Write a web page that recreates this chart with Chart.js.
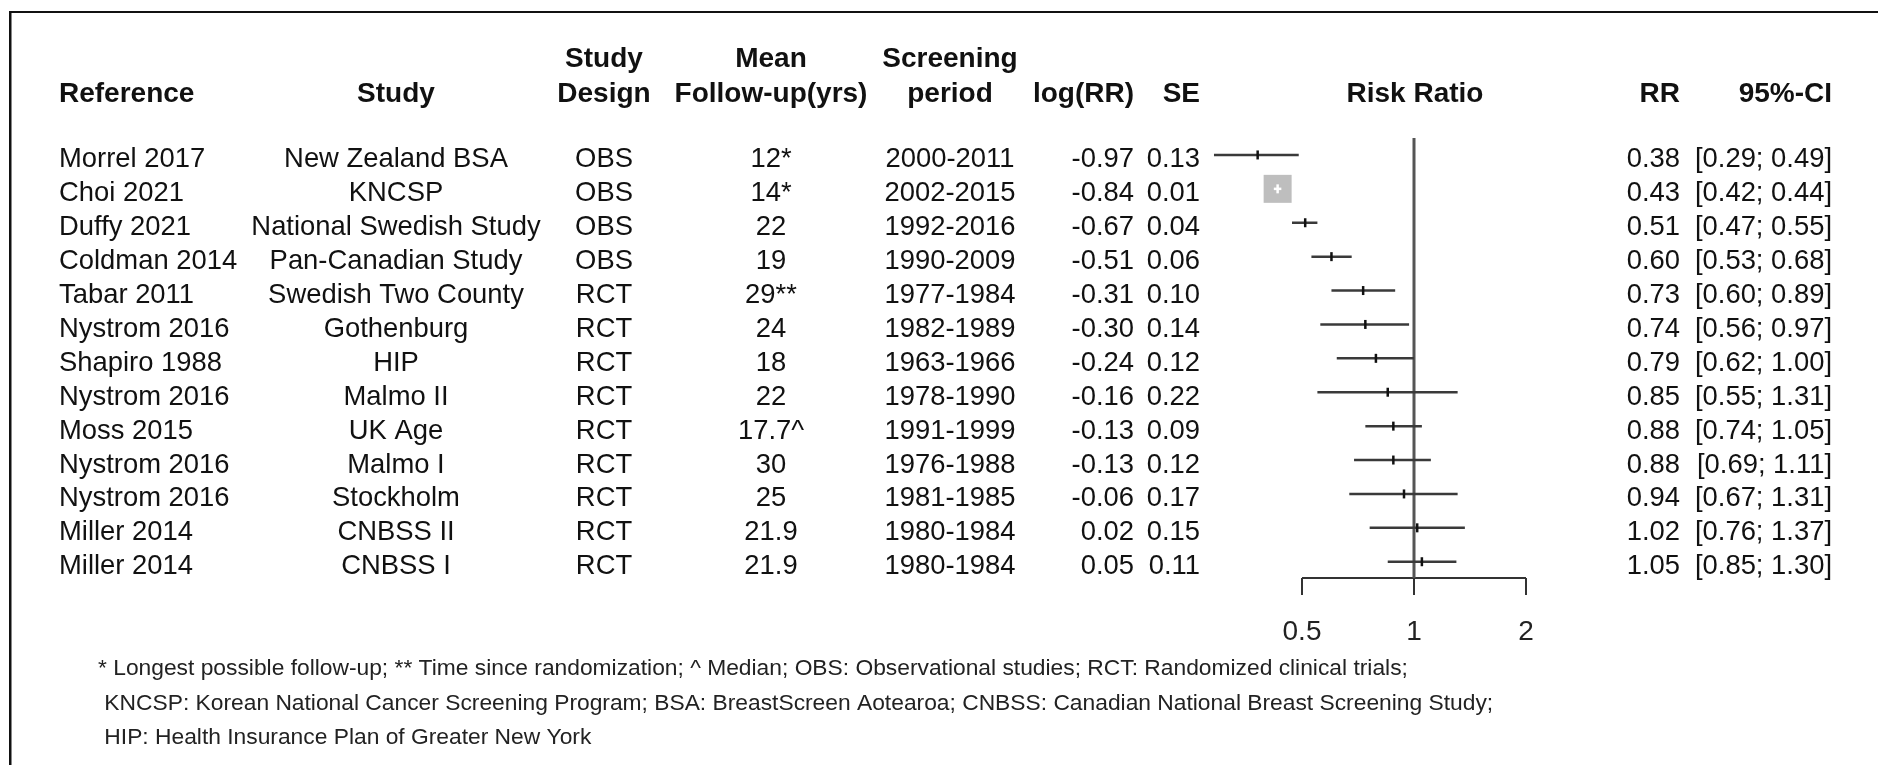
<!doctype html>
<meta charset="utf-8">
<style>
    html, body { margin: 0; background: #fff; }
    canvas { display: block; }
</style>
<script src="https://cdn.jsdelivr.net/npm/chart.js@4.4.8/dist/chart.umd.min.js"></script>

<canvas id="chart" width="1878" height="765"></canvas>

<script>
    const reference = ["Morrel 2017", "Choi 2021", "Duffy 2021", "Coldman 2014", "Tabar 2011", "Nystrom 2016", "Shapiro 1988",
        "Nystrom 2016", "Moss 2015", "Nystrom 2016", "Nystrom 2016", "Miller 2014", "Miller 2014"];
    const study = ["New Zealand BSA", "KNCSP", "National Swedish Study", "Pan-Canadian Study", "Swedish Two County", "Gothenburg", "HIP",
        "Malmo II", "UK Age", "Malmo I", "Stockholm", "CNBSS II", "CNBSS I"];
    const design = ["OBS", "OBS", "OBS", "OBS", "RCT", "RCT", "RCT", "RCT", "RCT", "RCT", "RCT", "RCT", "RCT"];
    const followUp = ["12*", "14*", "22", "19", "29**", "24", "18", "22", "17.7^", "30", "25", "21.9", "21.9"];
    const period = ["2000-2011", "2002-2015", "1992-2016", "1990-2009", "1977-1984", "1982-1989", "1963-1966",
        "1978-1990", "1991-1999", "1976-1988", "1981-1985", "1980-1984", "1980-1984"];
    const logRR = [-0.97, -0.84, -0.67, -0.51, -0.31, -0.30, -0.24, -0.16, -0.13, -0.13, -0.06, 0.02, 0.05];
    const se = [0.13, 0.01, 0.04, 0.06, 0.10, 0.14, 0.12, 0.22, 0.09, 0.12, 0.17, 0.15, 0.11];
    const rr = [0.38, 0.43, 0.51, 0.60, 0.73, 0.74, 0.79, 0.85, 0.88, 0.88, 0.94, 1.02, 1.05];
    const ciLow = [0.29, 0.42, 0.47, 0.53, 0.60, 0.56, 0.62, 0.55, 0.74, 0.69, 0.67, 0.76, 0.85];
    const ciHigh = [0.49, 0.44, 0.55, 0.68, 0.89, 0.97, 1.00, 1.31, 1.05, 1.11, 1.31, 1.37, 1.30];
    const xTicks = [0.5, 1, 2];
    const notes = [
        "* Longest possible follow-up; ** Time since randomization; ^ Median; OBS: Observational studies; RCT: Randomized clinical trials;",
        " KNCSP: Korean National Cancer Screening Program; BSA: BreastScreen Aotearoa; CNBSS: Canadian National Breast Screening Study;",
        " HIP: Health Insurance Plan of Greater New York"
    ];

    const FONT = '"Liberation Sans", Arial, Helvetica, sans-serif';
    const fix = v => v.toFixed(2);
    const rows = reference.map((_, i) => i);
    const yMin = -0.5, yMax = 12.48;

    // square size follows inverse-variance weight, biggest one is 28px wide
    const weight = se.map(s => 1 / (s * s));
    const maxWeight = Math.max(...weight);
    const squareSide = weight.map(w => 28 * w / maxWeight);

    function insideSquare(chart, i) {
        const x = chart.scales.x;
        const half = squareSide[i] / 2;
        const c = x.getPixelForValue(rr[i]);
        return half > 3 && c - x.getPixelForValue(ciLow[i]) <= half && x.getPixelForValue(ciHigh[i]) - c <= half;
    }

    const columns = [
        {x: 59, align: "left", head: ["", "Reference"], cells: reference},
        {x: 396, align: "center", head: ["", "Study"], cells: study},
        {x: 604, align: "center", head: ["Study", "Design"], cells: design},
        {x: 771, align: "center", head: ["Mean", "Follow-up(yrs)"], cells: followUp},
        {x: 950, align: "center", head: ["Screening", "period"], cells: period},
        {x: 1134, align: "right", head: ["", "log(RR)"], cells: logRR.map(fix)},
        {x: 1200, align: "right", head: ["", "SE"], cells: se.map(fix)},
        {x: 1415, align: "center", head: ["", "Risk Ratio"], cells: null},
        {x: 1680, align: "right", head: ["", "RR"], cells: rr.map(fix)},
        {x: 1832, align: "right", head: ["", "95%-CI"], cells: rows.map(i => `[${fix(ciLow[i])}; ${fix(ciHigh[i])}]`)}
    ];

    const tablePlugin = {
        id: "table",
        afterDraw(chart) {
            const ctx = chart.ctx;
            const y = chart.scales.y;
            ctx.save();
            ctx.fillStyle = "#111";
            ctx.fillRect(9, 11, 1869, 2);
            ctx.fillRect(9, 11, 2.5, 754);

            ctx.textBaseline = "alphabetic";
            ctx.font = "bold 28px " + FONT;
            for (const c of columns) {
                ctx.textAlign = c.align;
                if (c.head[0]) ctx.fillText(c.head[0], c.x, 67);
                ctx.fillText(c.head[1], c.x, 102);
            }
            ctx.font = "27.4px " + FONT;
            for (const c of columns) {
                if (!c.cells) continue;
                ctx.textAlign = c.align;
                c.cells.forEach((t, i) => ctx.fillText(t, c.x, y.getPixelForValue(i) + 12.5));
            }
            ctx.font = "22.8px " + FONT;
            ctx.textAlign = "left";
            ctx.fillStyle = "#222";
            notes.forEach((t, i) => ctx.fillText(t, 98, 675 + i * 34.5));
            ctx.restore();
        }
    };

    const points = rows.map(i => ({x: rr[i], y: i}));

    new Chart(document.getElementById("chart"), {
        type: "scatter",
        plugins: [tablePlugin],
        data: {
            datasets: [{
                order: 0,
                data: points,
                pointStyle: "line",
                pointRotation: 90,
                pointRadius: 4.5,
                pointBorderWidth: 2.5,
                pointBorderColor: ctx => insideSquare(ctx.chart, ctx.dataIndex) ? "#fff" : "#111"
            },
            ...rows.map(i => ({
                type: "line",
                order: 1,
                data: [{x: ciLow[i], y: i}, {x: ciHigh[i], y: i}],
                borderColor: ctx => insideSquare(ctx.chart, i) ? "#fff" : "#3a3a3a",
                borderWidth: 2.5,
                pointRadius: 0,
                clip: false
            })),
            {
                order: 2,
                data: points,
                pointStyle: "rect",
                pointRadius: ctx => squareSide[ctx.dataIndex] >= 3 ? squareSide[ctx.dataIndex] / Math.SQRT2 : 0,
                pointBackgroundColor: "#bebebe",
                pointBorderWidth: 0
            }, {
                type: "line",
                order: 3,
                data: [{x: 1, y: yMin}, {x: 1, y: yMax}],
                borderColor: "#555",
                borderWidth: 3,
                pointRadius: 0,
                clip: false
            }, {
                type: "line",
                order: 3,
                data: [{x: xTicks[0], y: yMax}, {x: xTicks[xTicks.length - 1], y: yMax}],
                borderColor: "#333",
                borderWidth: 2,
                pointRadius: 0,
                clip: false
            }]
        },
        options: {
            responsive: false,
            animation: false,
            events: [],
            layout: {padding: {left: 1190, right: 240, top: 138, bottom: 96.4}},
            plugins: {legend: {display: false}, tooltip: {enabled: false}},
            scales: {
                x: {
                    type: "logarithmic",
                    min: 0.25,
                    max: 4,
                    afterBuildTicks: s => { s.ticks = xTicks.map(v => ({value: v})); },
                    ticks: {
                        autoSkip: false,
                        maxRotation: 0,
                        padding: 20,
                        color: "#222",
                        font: {family: FONT, size: 28},
                        callback: v => String(v)
                    },
                    grid: {display: true, drawOnChartArea: false, drawTicks: true, tickLength: 17, color: "#333", lineWidth: 2},
                    border: {display: false}
                },
                y: {type: "linear", display: false, reverse: true, min: yMin, max: yMax}
            }
        }
    });
</script>
